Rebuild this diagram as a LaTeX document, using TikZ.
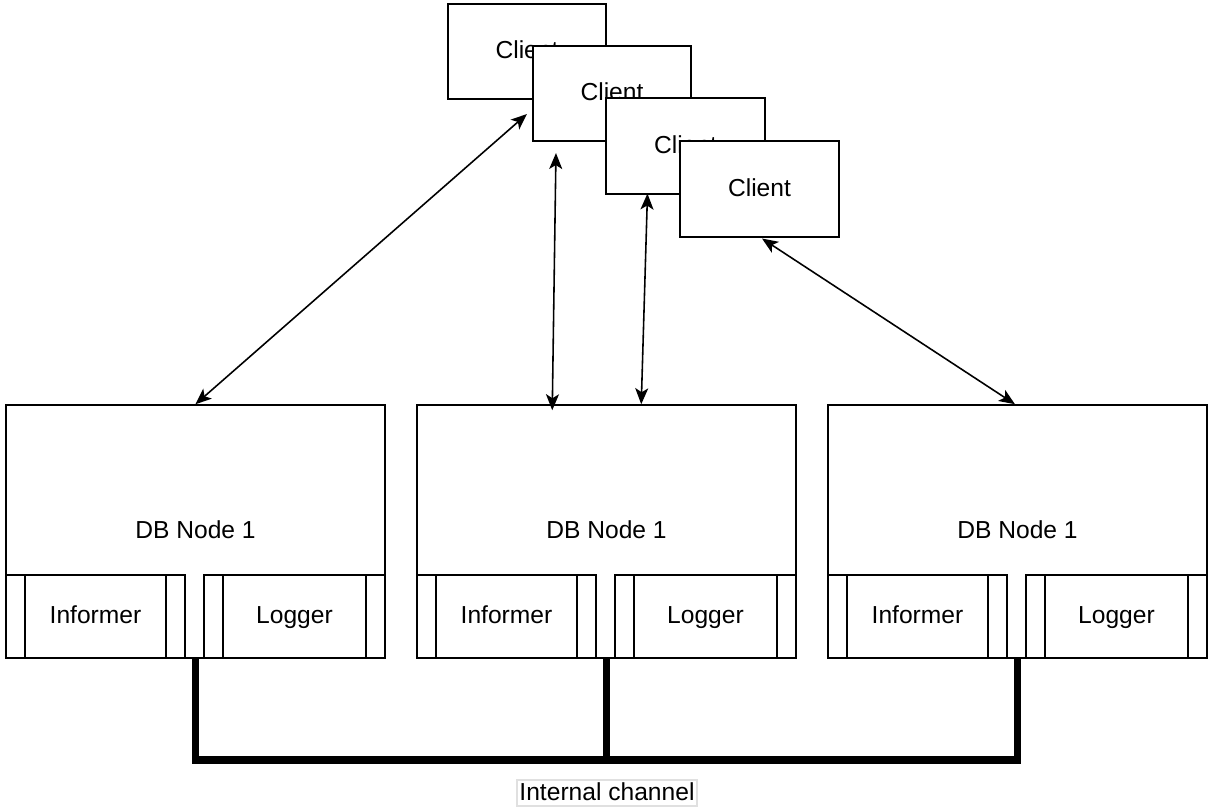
\documentclass[tikz,border=0pt]{standalone}
\usepackage{fontspec}
\setmainfont{Liberation Sans}
\usetikzlibrary{arrows.meta}

\tikzset{
  process/.style={minimum height=1.66cm,
    path picture={
      \draw ([xshift=0.38cm]path picture bounding box.north west) -- ([xshift=0.38cm]path picture bounding box.south west);
      \draw ([xshift=-0.38cm]path picture bounding box.north east) -- ([xshift=-0.38cm]path picture bounding box.south east);
    }},
  tip/.tip={Stealth[length=0.32cm, width=0.26cm, inset=0.08cm]}
}

\begin{document}
\begin{tikzpicture}[
		x=0.02cm, y=-0.02cm,
		line width=0.9pt,
		every node/.style={rectangle, draw, fill=white, inner sep=0pt, text height=2ex, text depth=0.4ex, font=\fontsize{14}{16}\selectfont},
		client/.style={minimum width=3.17cm, minimum height=1.91cm},
		dbnode/.style={minimum width=7.58cm, minimum height=5.06cm},
		link/.style={tip-tip},
		channel/.style={line width=4.5pt}
	]
  \useasboundingbox (0,0) rectangle (1208,807);
  \node (db_1) [dbnode] at (195.5, 531.5) {DB Node 1};
  \node (db_2) [dbnode] at (606.5, 531.5) {DB Node 1};
  \node (db_3) [dbnode] at (1017.5, 531.5) {DB Node 1};
  \node (inf_1) [process, minimum width=3.58cm] at (95.5, 616.5) {Informer};
  \node (log_1) [process, minimum width=3.62cm] at (294.5, 616.5) {Logger};
  \node (inf_2) [process, minimum width=3.58cm] at (506.5, 616.5) {Informer};
  \node (log_2) [process, minimum width=3.62cm] at (705.5, 616.5) {Logger};
  \node (inf_3) [process, minimum width=3.58cm] at (917.5, 616.5) {Informer};
  \node (log_3) [process, minimum width=3.62cm] at (1116.5, 616.5) {Logger};
  \coordinate (bus) at (606.5, 760);
  \draw [channel] (db_1.south) |- (bus) -| (db_3.south);
  \draw [channel] (db_2.south) -- (bus);
  \node (chan_lbl) [draw=black!12, minimum width=3.6cm, minimum height=0.52cm] at (607, 793) {Internal channel};
  \node (client_1) [client] at (527, 51.5) {Client};
  \node (client_2) [client] at (612, 93.5) {Client};
  \node (client_3) [client] at (685.5, 146) {Client};
  \node (client_4) [client] at (759.5, 189) {Client};
  \draw [link] ([shift={(-5,-28)}]client_2.south west) -- (db_1.north);
  \draw [link] ([shift={(24,11)}]client_2.south west) -- ([shift={(136,6)}]db_2.north west);
  \draw [link] ([shift={(42,-1)}]client_3.south west) -- ([shift={(225,0)}]db_2.north west);
  \draw [link] ([shift={(2.5,1)}]client_4.south) -- ([shift={(-2.5,0)}]db_3.north);
\end{tikzpicture}
\end{document}
